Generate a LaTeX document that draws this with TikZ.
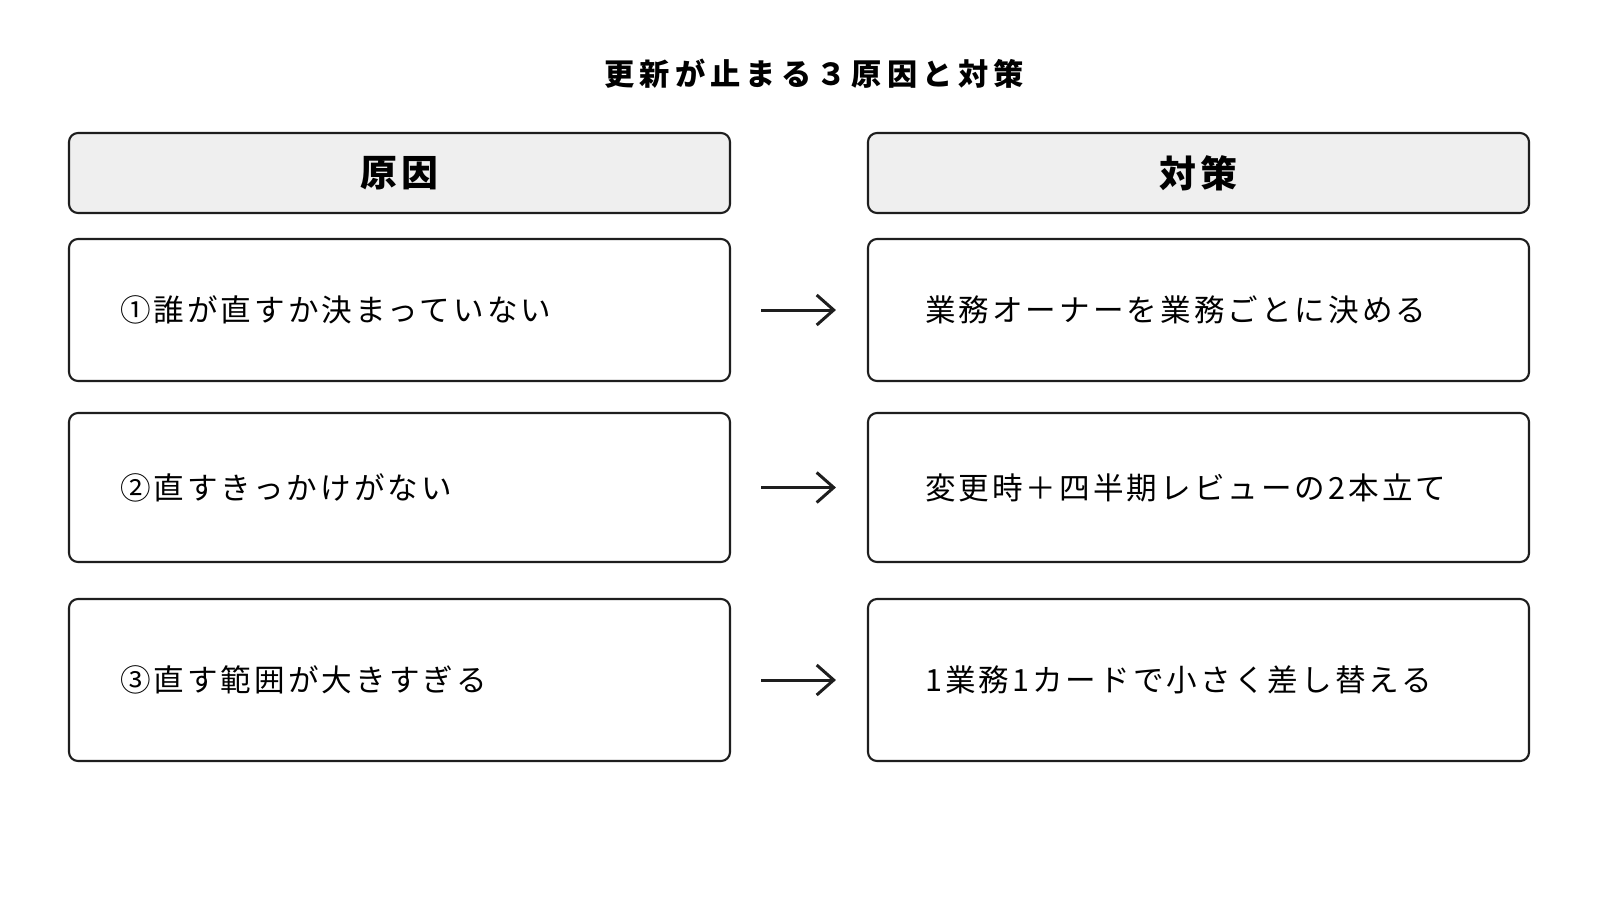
\documentclass[tikz,border=0pt]{standalone}
\usepackage{fontspec}
\setmainfont{Noto Sans CJK JP}
\newfontfamily\jp[LetterSpace=10]{Noto Sans CJK JP}
\newfontfamily\jptitle[LetterSpace=17]{Noto Sans CJK JP}
\usepackage{tikz}
\usetikzlibrary{arrows.meta}

\definecolor{edge}{HTML}{1E1E1E}
\definecolor{headfill}{HTML}{EFEFEF}

\begin{document}
\begin{tikzpicture}[
    box/.style={draw=edge, line width=0.6pt, rounded corners=0.9mm, minimum width=6.61cm, inner xsep=0.51cm, text width=5.59cm, align=left, font=\jp\fontsize{8.7}{10}\selectfont},
    fixbox/.style={box, inner xsep=0.57cm, text width=5.47cm},
    headbox/.style={draw=edge, line width=0.6pt, rounded corners=0.9mm, fill=headfill, minimum width=6.61cm, minimum height=0.80cm, font=\jp\bfseries\fontsize{10.5}{12}\selectfont},
    arr/.style={edge, line width=0.85pt, -{Straight Barb[length=1.7mm,width=3mm]}, shorten <=0.3cm, shorten >=0.31cm}
]
\fill[white] (0,0) rectangle (16,-9);
\useasboundingbox (0,0) rectangle (16,-9);

\node[font=\jptitle\bfseries\fontsize{8.6}{10}\selectfont](title) at (8.14,-0.74) {更新が止まる３原因と対策};

\node[headbox](headCause) at (3.995,-1.73) {原因};
\node[headbox](headFix) at (11.985,-1.73) {対策};

\node[box, minimum height=1.42cm](cause1) at (3.995,-3.10) {①誰が直すか決まっていない};
\node[box, minimum height=1.49cm](cause2) at (3.995,-4.875) {②直すきっかけがない};
\node[box, minimum height=1.62cm](cause3) at (3.995,-6.80) {③直す範囲が大きすぎる};

\node[fixbox, minimum height=1.42cm](fix1) at (11.985,-3.10) {業務オーナーを業務ごとに決める};
\node[fixbox, minimum height=1.49cm](fix2) at (11.985,-4.875) {変更時＋四半期レビューの2本立て};
\node[fixbox, minimum height=1.62cm](fix3) at (11.985,-6.80) {1業務1カードで小さく差し替える};

\draw[arr] (cause1) -- (fix1);
\draw[arr] (cause2) -- (fix2);
\draw[arr] (cause3) -- (fix3);

\end{tikzpicture}
\end{document}
